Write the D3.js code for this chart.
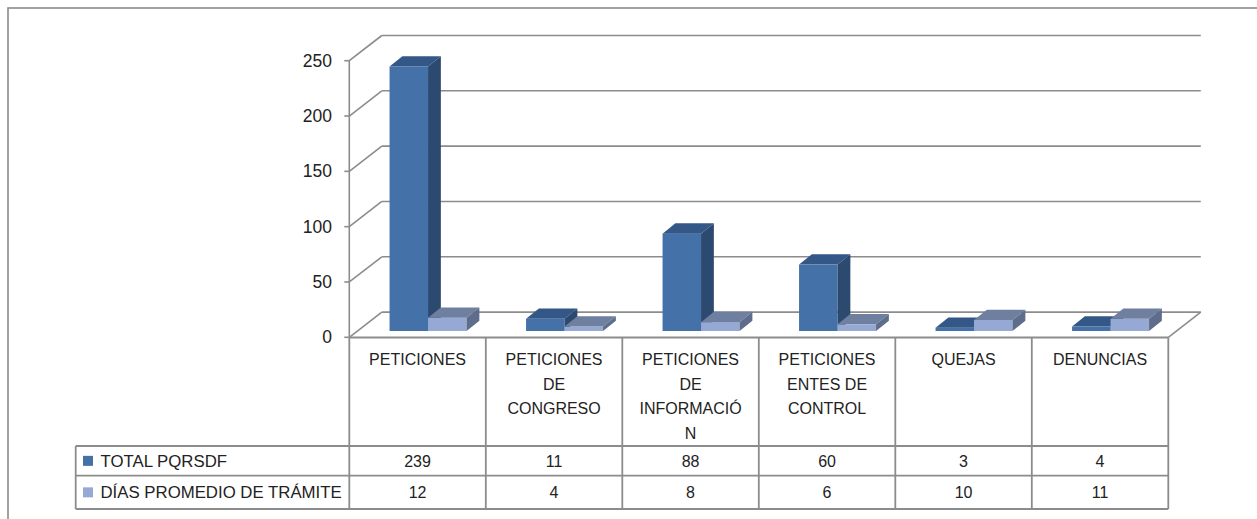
<!DOCTYPE html>
<html><head><meta charset="utf-8">
<script src="https://cdn.jsdelivr.net/npm/d3@7"></script>
<style>body{margin:0;background:#fff}svg{display:block}text{font-family:"Liberation Sans",Arial,sans-serif;fill:#222}</style>
</head><body><svg id="c" width="1257" height="519"></svg>
<script>
const categories = ["PETICIONES","PETICIONES\nDE\nCONGRESO","PETICIONES\nDE\nINFORMACIÓ\nN","PETICIONES\nENTES DE\nCONTROL","QUEJAS","DENUNCIAS"];
const seriesNames = ["TOTAL PQRSDF","DÍAS PROMEDIO DE TRÁMITE"];
const totalPQRSDF = [239,11,88,60,3,4];
const diasPromedio = [12,4,8,6,10,11];
const yTicks = [0,50,100,150,200,250];
const series = [totalPQRSDF, diasPromedio];
const colors = [
  {front:"#4571a9", top:"#335786", side:"#2c4a70"},
  {front:"#95a9d4", top:"#6f7f9f", side:"#5e6d8b"}
];

const svg = d3.select("#c");
const gridColor = "#8c8c8c";
const left = 349.3, right = 1168.3;
const depthX = 32.5, depthY = -25.2;
const y = d3.scaleLinear().domain([0,250]).range([337.3,60.7]);
const x = d3.scaleBand().domain(categories).range([left,right]).padding(0);
const barW = 38.5;
const inner = d3.scaleBand().domain([0,1]).range([0,barW*2]).padding(0);
const offX = 10.5, offY = -6.3;   // bar front face position inside depth
const bdX = 12.8, bdY = -10.3;    // bar depth

// outer frame
svg.append("rect").attr("x",8).attr("y",8).attr("width",1270).attr("height",530)
  .attr("fill","none").attr("stroke","#8a8a8a").attr("stroke-width",1.6);

// back wall gridlines & side wall diagonals
const g = svg.append("g").attr("stroke",gridColor).attr("stroke-width",1.6).attr("fill","none");
yTicks.forEach(t=>{
  const yy = y(t);
  g.append("line").attr("x1",left+depthX).attr("x2",right+depthX).attr("y1",yy+depthY).attr("y2",yy+depthY);
  g.append("line").attr("x1",left).attr("x2",left+depthX).attr("y1",yy).attr("y2",yy+depthY);
  g.append("line").attr("x1",left-5).attr("x2",left).attr("y1",yy).attr("y2",yy);
});
// axis line
g.append("line").attr("x1",left).attr("x2",left).attr("y1",y(250)).attr("y2",y(0));
// floor right diagonal
g.append("line").attr("x1",right).attr("x2",right+depthX).attr("y1",y(0)).attr("y2",y(0)+depthY);

// tick labels
svg.append("g").selectAll("text").data(yTicks).join("text")
  .attr("x",332).attr("y",d=>y(d)+6).attr("text-anchor","end")
  .style("font-size","17.5px").text(d=>d);

// bars
const bars = svg.append("g");
categories.forEach((c,i)=>{
  const cx = x(c) + x.bandwidth()/2 + offX;
  const gx0 = cx - barW;
  series.forEach((s,k)=>{
    const v = s[i];
    const x0 = gx0 + inner(k), x1 = x0 + inner.bandwidth();
    const yb = y(0)+offY, yt = y(v)+offY;
    const col = colors[k];
    bars.append("rect").attr("x",x0).attr("y",yt).attr("width",x1-x0).attr("height",yb-yt).attr("fill",col.front);
    bars.append("path").attr("d",`M${x0},${yt}L${x0+bdX},${yt+bdY}L${x1+bdX},${yt+bdY}L${x1},${yt}Z`).attr("fill",col.top);
    bars.append("path").attr("d",`M${x1},${yt}L${x1+bdX},${yt+bdY}L${x1+bdX},${yb+bdY}L${x1},${yb}Z`).attr("fill",col.side);
  });
});

// data table
const tTop = 337.5, hBot = 446, r1 = 475.7, r2 = 509, legLeft = 75.7;
const tg = svg.append("g").attr("stroke",gridColor).attr("stroke-width",1.8);
tg.append("line").attr("x1",left).attr("x2",right).attr("y1",tTop).attr("y2",tTop);
[hBot,r1,r2].forEach(yy=>tg.append("line").attr("x1",legLeft).attr("x2",right).attr("y1",yy).attr("y2",yy));
tg.append("line").attr("x1",legLeft).attr("x2",legLeft).attr("y1",hBot).attr("y2",r2);
categories.forEach(c=>tg.append("line").attr("x1",x(c)).attr("x2",x(c)).attr("y1",tTop).attr("y2",r2));
tg.append("line").attr("x1",right).attr("x2",right).attr("y1",tTop).attr("y2",r2);

// header labels
categories.forEach(c=>{
  const t = svg.append("text").attr("text-anchor","middle").style("font-size","16px");
  c.split("\n").forEach((ln,j)=>t.append("tspan").attr("x",x(c)+x.bandwidth()/2).attr("y",365+j*24.6).text(ln));
});
// legend rows
const rowY = [[hBot,r1],[r1,r2]];
seriesNames.forEach((n,k)=>{
  const mid = (rowY[k][0]+rowY[k][1])/2;
  svg.append("rect").attr("x",83).attr("y",mid-5).attr("width",10).attr("height",10).attr("fill",colors[k].front);
  svg.append("text").attr("x",100.5).attr("y",mid+6).style("font-size","16.8px").text(n);
  categories.forEach((c,i)=>{
    svg.append("text").attr("x",x(c)+x.bandwidth()/2).attr("y",mid+5.8).attr("text-anchor","middle")
      .style("font-size","16px").text(series[k][i]);
  });
});
</script></body></html>
